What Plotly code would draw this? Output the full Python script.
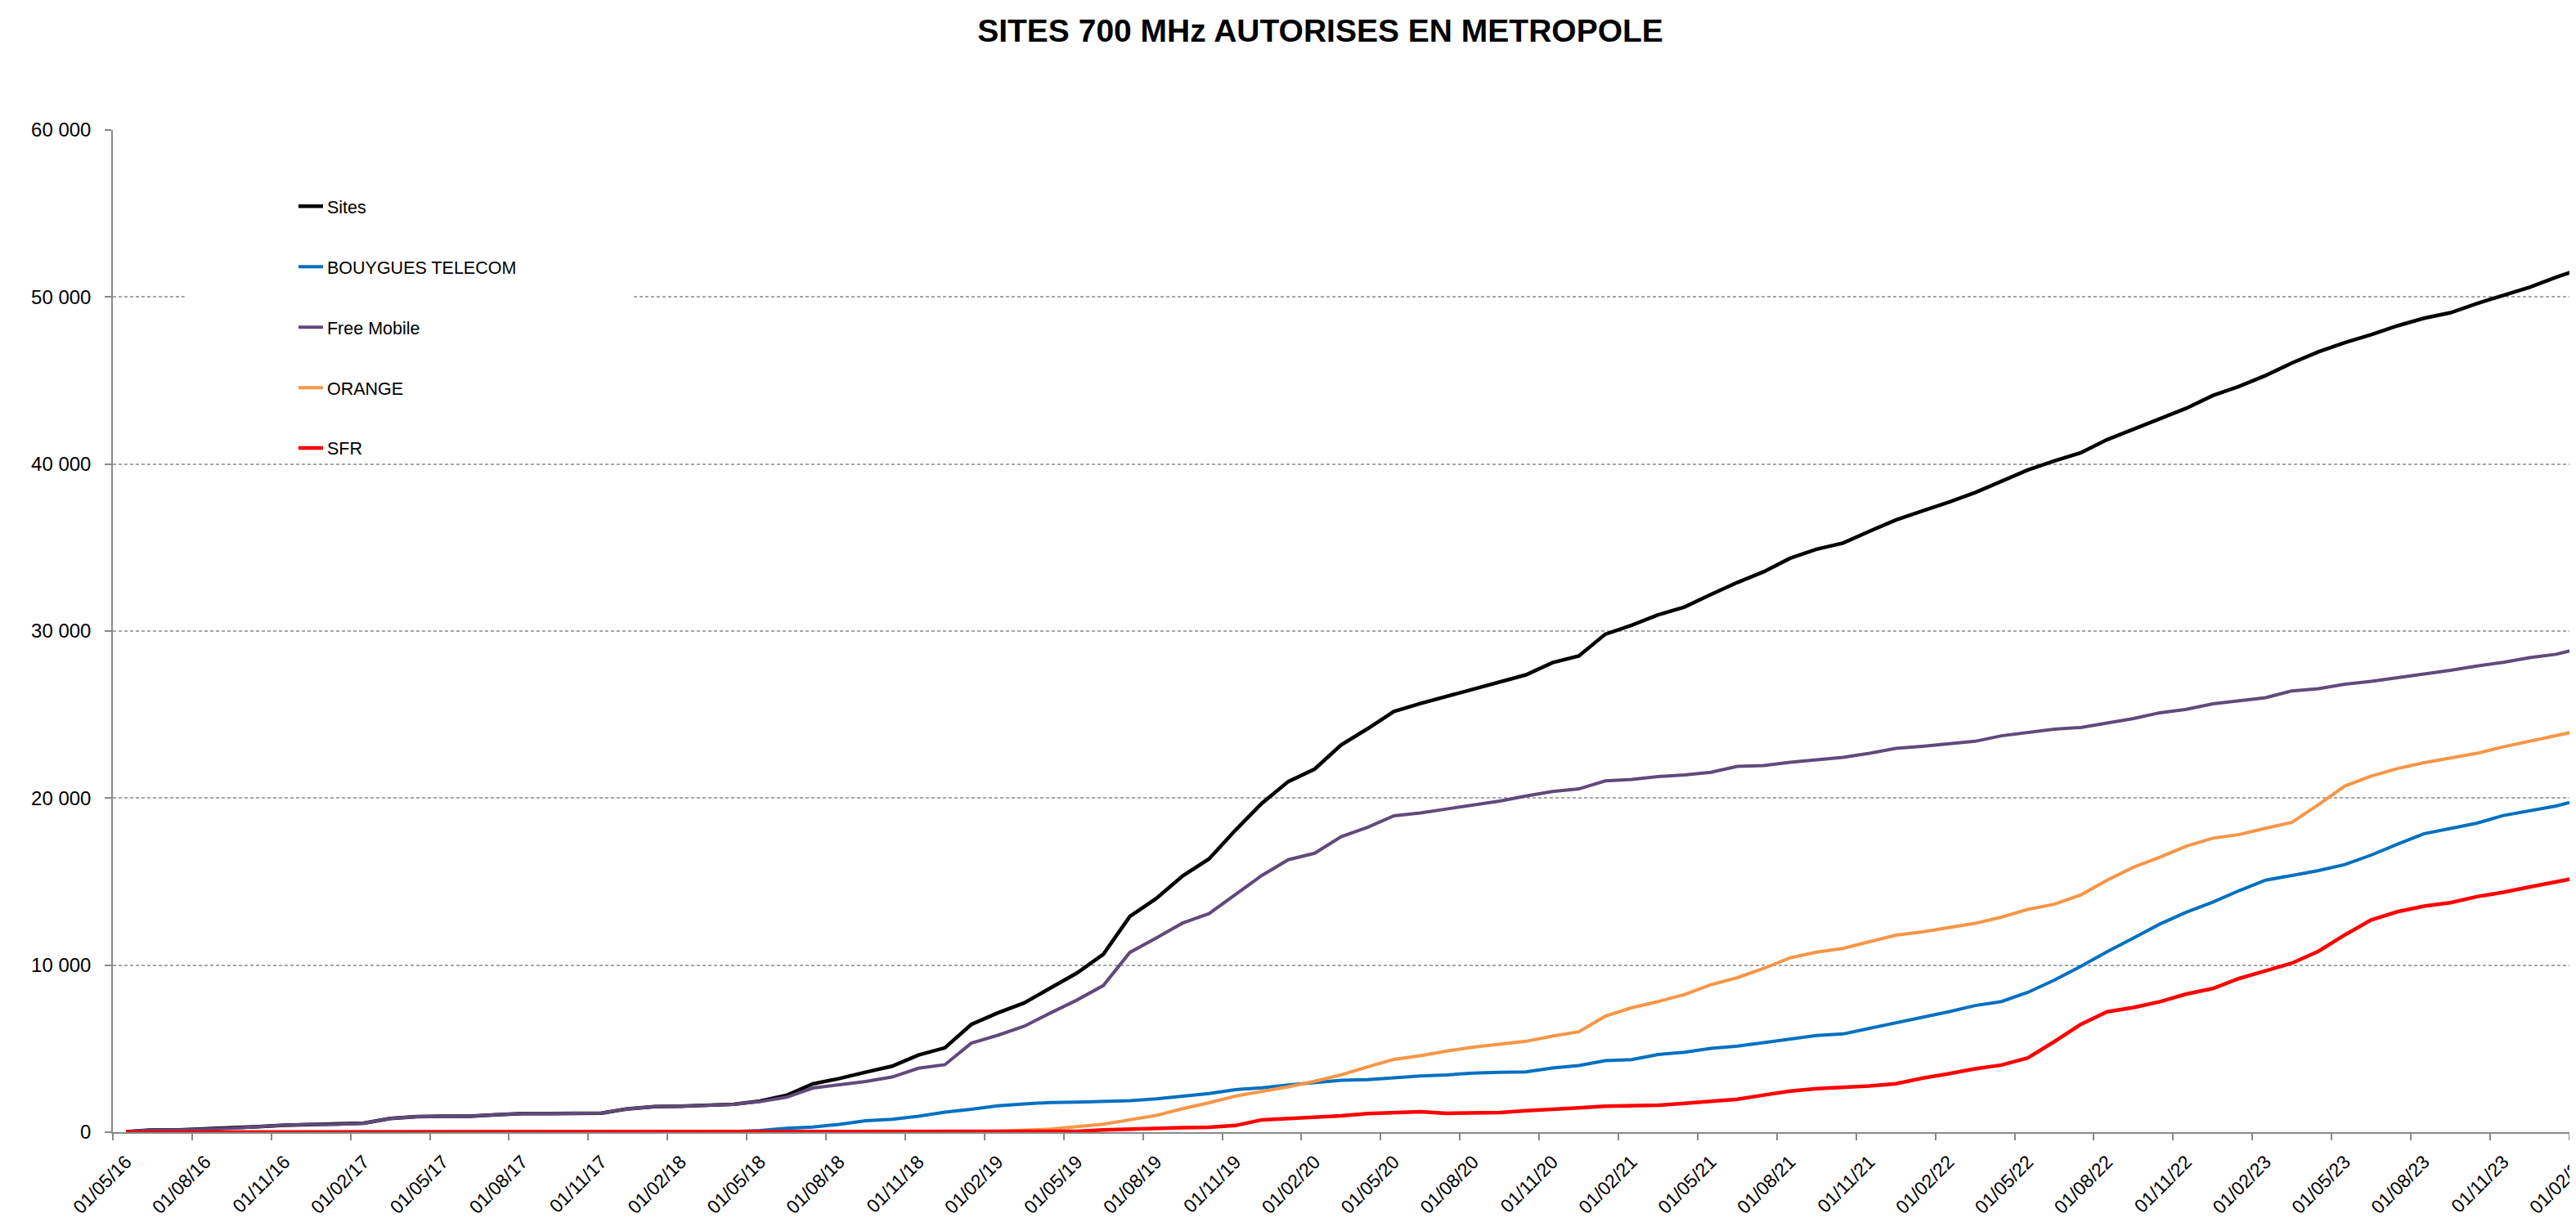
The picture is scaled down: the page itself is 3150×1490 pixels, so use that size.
import pandas as pd
import plotly.graph_objects as go

# one category per month, 01/05/16 -> 01/02/24
mois = pd.date_range("2016-05-01", "2024-02-01", freq="MS").strftime("%d/%m/%y").tolist()

sites = [30, 130, 130, 180, 230, 330, 420, 460, 460, 540,
         815, 930, 950, 960, 1040, 1110, 1110, 1125, 1140, 1400,
         1530, 1550, 1600, 1670, 1860, 2200, 2890, 3210, 3590, 3950,
         4620, 5050, 6450, 7140, 7740, 8650, 9530, 10650, 12910, 13990,
         15340, 16360, 18080, 19690, 20990, 21740, 23180, 24150, 25190, 25660,
         26090, 26540, 26970, 27380, 28110, 28510, 29810, 30350, 30970, 31440,
         32190, 32910, 33550, 34360, 34900, 35270, 35970, 36650, 37190, 37710,
         38290, 38950, 39650, 40190, 40670, 41460, 42070, 42730, 43340, 44100,
         44650, 45300, 46050, 46720, 47270, 47750, 48280, 48730, 49060, 49610,
         50110, 50590, 51180, 51730]

bouygues = [0, 0, 0, 0, 0, 0, 0, 0, 0, 0,
            0, 0, 0, 0, 0, 0, 0, 0, 0, 0,
            10, 20, 30, 40, 100, 230, 310, 470, 690, 770,
            950, 1195, 1370, 1580, 1690, 1780, 1800, 1840, 1880, 1990,
            2140, 2310, 2550, 2660, 2830, 2960, 3110, 3150, 3260, 3370,
            3430, 3540, 3580, 3610, 3840, 3990, 4280, 4340, 4650, 4780,
            5020, 5150, 5360, 5560, 5790, 5880, 6200, 6550, 6890, 7210,
            7580, 7820, 8370, 9100, 9920, 10800, 11620, 12460, 13170, 13770,
            14460, 15090, 15370, 15660, 16020, 16590, 17250, 17870, 18180, 18500,
            18960, 19240, 19530, 19940]

free = [30, 130, 130, 180, 230, 330, 420, 460, 460, 540,
        815, 930, 950, 960, 1040, 1110, 1110, 1125, 1140, 1400,
        1530, 1550, 1600, 1660, 1830, 2090, 2640, 2840, 3030, 3300,
        3830, 4040, 5330, 5800, 6340, 7140, 7910, 8780, 10760, 11620,
        12520, 13080, 14200, 15370, 16310, 16700, 17690, 18250, 18940, 19110,
        19350, 19570, 19820, 20130, 20400, 20550, 21030, 21120, 21290, 21390,
        21550, 21900, 21950, 22140, 22270, 22440, 22680, 22980, 23100, 23240,
        23400, 23730, 23950, 24130, 24230, 24480, 24760, 25110, 25310, 25640,
        25810, 26010, 26420, 26550, 26820, 26990, 27210, 27410, 27650, 27910,
        28130, 28410, 28610, 29000]

orange = [0, 0, 0, 0, 0, 0, 0, 0, 0, 0,
          0, 0, 0, 0, 0, 0, 0, 0, 0, 0,
          0, 0, 0, 0, 0, 5, 10, 10, 15, 20,
          25, 30, 40, 50, 100, 180, 330, 480, 740, 1000,
          1410, 1760, 2160, 2420, 2720, 3050, 3430, 3910, 4360, 4580,
          4860, 5090, 5270, 5440, 5750, 6010, 6940, 7450, 7820, 8240,
          8830, 9250, 9800, 10440, 10780, 11000, 11400, 11790, 11990, 12250,
          12500, 12870, 13340, 13650, 14200, 15090, 15860, 16460, 17120, 17600,
          17820, 18190, 18550, 19610, 20720, 21320, 21770, 22120, 22390, 22680,
          23070, 23400, 23720, 24080]

sfr = [0, 0, 0, 0, 0, 0, 0, 0, 0, 0,
       0, 0, 0, 0, 0, 0, 0, 0, 0, 0,
       0, 0, 0, 0, 0, 0, 0, 0, 0, 0,
       5, 10, 15, 20, 25, 35, 50, 140, 200, 230,
       270, 290, 400, 740, 810, 920, 980, 1110, 1170, 1220,
       1130, 1130, 1170, 1280, 1390, 1450, 1550, 1580, 1610, 1720,
       1830, 1970, 2220, 2460, 2610, 2680, 2760, 2900, 3230, 3500,
       3790, 4020, 4450, 5420, 6450, 7210, 7460, 7810, 8270, 8600,
       9200, 9660, 10120, 10830, 11810, 12710, 13200, 13530, 13740, 14100,
       14360, 14680, 15010, 15290]

FONT = "Liberation Sans, Arial, sans-serif"
GREY = '#898989'

series = [
    ('Sites', sites, '#000000', 4.5),
    ('BOUYGUES TELECOM', bouygues, '#0070C0', 4),
    ('Free Mobile', free, '#604A7B', 4),
    ('ORANGE', orange, '#F79646', 4),
    ('SFR', sfr, '#FF0000', 4.5),
]

fig = go.Figure()
for k, (name, vals, color, w) in enumerate(series):
    fig.add_trace(go.Scatter(
        x=mois, y=vals, name=name, mode='lines',
        legendgroup='g%d' % k,
        line=dict(color=color, width=w),
    ))

# white patch behind the legend (no data passes there), cuts the grid line
fig.add_shape(type='rect', xref='paper', yref='paper',
              x0=0.029, x1=0.21, y0=0.68, y1=0.96,
              fillcolor='white', line=dict(width=0), layer='above')

fig.update_layout(
    width=3150, height=1490,
    paper_bgcolor='white', plot_bgcolor='white',
    separators=', ',
    font=dict(family=FONT, size=23, color='#000000'),
    title=dict(text='<b>SITES 700 MHz AUTORISES EN METROPOLE</b>',
               x=0.51, xanchor='center', y=0.98, yanchor='middle',
               font=dict(family=FONT, size=39, color='#000000')),
    margin=dict(l=130, r=0, t=151, b=113, autoexpand=False),
    showlegend=True,
    legend=dict(x=0.0735, xanchor='left', y=0.9406, yanchor='top',
                bgcolor='rgba(0,0,0,0)', tracegroupgap=43,
                font=dict(family=FONT, size=21.5, color='#000000')),
    xaxis=dict(
        type='category', range=[-0.5, 93], tickmode='linear', tick0=0, dtick=3,
        tickson='boundaries', tickangle=-45, showgrid=False,
        showline=True, linecolor=GREY, linewidth=1.5,
        ticks='outside', ticklen=8, tickcolor=GREY, tickwidth=1.5,
        ticklabelstandoff=12,
        tickfont=dict(family=FONT, size=23, color='#000000'),
        automargin=False,
    ),
    yaxis=dict(
        range=[0, 60000], dtick=10000, tickformat=',d',
        showgrid=True, gridcolor='#A6A6A6', gridwidth=1.5, griddash='4px,3px',
        zeroline=False, showline=True, linecolor=GREY, linewidth=1.5,
        ticks='outside', ticklen=8, tickcolor=GREY, tickwidth=1.5,
        ticklabelstandoff=12,
        tickfont=dict(family=FONT, size=24, color='#000000'),
        automargin=False,
    ),
)

fig.write_html("out.html")
